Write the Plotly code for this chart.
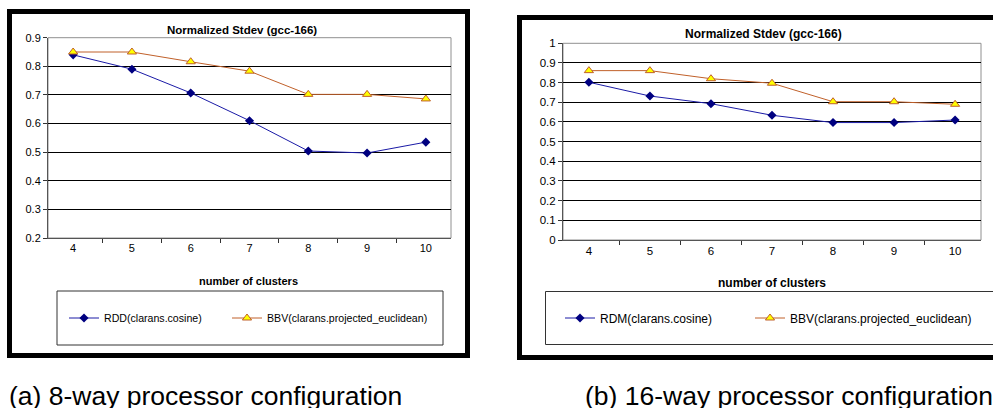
import plotly.graph_objects as go

W, H = 993, 408
clusters = ["4", "5", "6", "7", "8", "9", "10"]
rdd_8way = [0.840, 0.790, 0.707, 0.610, 0.504, 0.497, 0.535]
bbv_8way = [0.850, 0.850, 0.816, 0.783, 0.702, 0.702, 0.686]
rdm_16way = [0.802, 0.732, 0.693, 0.634, 0.597, 0.597, 0.610]
bbv_16way = [0.861, 0.861, 0.820, 0.797, 0.703, 0.703, 0.690]

chart_title = "Normalized Stdev (gcc-166)"
x_title = "number of clusters"
captions = ["(a) 8-way processor configuration", "(b) 16-way processor configuration"]

FONT = "Liberation Sans, Arial, sans-serif"
BLUE_LINE = "#1a1aa6"
NAVY = "#000080"
ORANGE = "#c0602a"


def fx(px):
    return px / W


def fy(py):
    return 1 - py / H


fig = go.Figure()

fig.add_trace(go.Scatter(x=clusters, y=rdd_8way, name="RDD(clarans.cosine)", mode="lines+markers",
                         line=dict(color=BLUE_LINE, width=1),
                         marker=dict(symbol="diamond", size=7, color=NAVY),
                         xaxis="x", yaxis="y", legend="legend", legendwidth=118))
fig.add_trace(go.Scatter(x=clusters, y=bbv_8way, name="BBV(clarans.projected_euclidean)", mode="lines+markers",
                         line=dict(color=ORANGE, width=1),
                         marker=dict(symbol="triangle-up", size=8, color="#ffff00", line=dict(color=ORANGE, width=1)),
                         xaxis="x", yaxis="y", legend="legend", legendwidth=220))
fig.add_trace(go.Scatter(x=clusters, y=rdm_16way, name="RDM(clarans.cosine)", mode="lines+markers",
                         line=dict(color=BLUE_LINE, width=1),
                         marker=dict(symbol="diamond", size=7, color=NAVY),
                         xaxis="x2", yaxis="y2", legend="legend2", legendwidth=145))
fig.add_trace(go.Scatter(x=clusters, y=bbv_16way, name="BBV(clarans.projected_euclidean)", mode="lines+markers",
                         line=dict(color=ORANGE, width=1),
                         marker=dict(symbol="triangle-up", size=8, color="#ffff00", line=dict(color=ORANGE, width=1)),
                         xaxis="x2", yaxis="y2", legend="legend2", legendwidth=220))


def xax(size):
    return dict(type="category", tickson="boundaries", ticks="outside", ticklen=4, tickcolor="#333",
                showgrid=False, showline=True, linecolor="#555", linewidth=1,
                tickfont=dict(family=FONT, size=size, color="black"),
                zeroline=False, fixedrange=True, automargin=False)


def yax(size):
    return dict(ticks="outside", ticklen=4, tickcolor="#333", showgrid=True, gridcolor="#000", gridwidth=1,
                showline=True, linecolor="#555", linewidth=1,
                tickfont=dict(family=FONT, size=size, color="black"), zeroline=False, fixedrange=True,
                automargin=False)


L = dict(x0=48, x1=451, y0=37.7, y1=238)
R = dict(x0=563, x1=981, y0=43.3, y1=240)

fig.update_layout(
    width=W, height=H, autosize=False,
    margin=dict(l=0, r=0, t=0, b=0, pad=0, autoexpand=False),
    paper_bgcolor="white", plot_bgcolor="white",
    font=dict(family=FONT, size=11, color="black"),
    xaxis=dict(**xax(11), domain=[fx(L["x0"]), fx(L["x1"])], anchor="y"),
    yaxis=dict(**yax(11), domain=[fy(L["y1"]), fy(L["y0"])], anchor="x", range=[0.2, 0.9], dtick=0.1,
               tickformat=".1f"),
    xaxis2=dict(**xax(11.5), domain=[fx(R["x0"]), fx(R["x1"])], anchor="y2"),
    yaxis2=dict(**yax(11.5), domain=[fy(R["y1"]), fy(R["y0"])], anchor="x2", range=[0, 1],
                tickvals=[0, 0.1, 0.2, 0.3, 0.4, 0.5, 0.6, 0.7, 0.8, 0.9, 1],
                ticktext=["0", "0.1", "0.2", "0.3", "0.4", "0.5", "0.6", "0.7", "0.8", "0.9", "1"]),
    legend=dict(orientation="h", x=fx(64), xanchor="left", y=fy(318), yanchor="middle",
                bgcolor="rgba(0,0,0,0)", font=dict(family=FONT, size=10.6, color="black"),
                entrywidthmode="pixels", itemclick=False, itemdoubleclick=False),
    legend2=dict(orientation="h", x=fx(560), xanchor="left", y=fy(318), yanchor="middle",
                 bgcolor="rgba(0,0,0,0)", font=dict(family=FONT, size=12, color="black"),
                 entrywidthmode="pixels", itemclick=False, itemdoubleclick=False),
    showlegend=True,
)

shapes = []
shapes.append(dict(type="rect", xref="paper", yref="paper", x0=fx(9.5), x1=fx(467.5), y0=fy(355.5), y1=fy(11.5),
                   line=dict(color="black", width=5)))
shapes.append(dict(type="rect", xref="paper", yref="paper", x0=fx(519.5), x1=fx(1010), y0=fy(357.5), y1=fy(17.5),
                   line=dict(color="black", width=5)))
for P in (L, R):
    shapes.append(dict(type="rect", xref="paper", yref="paper", x0=fx(P["x0"]), x1=fx(P["x1"]),
                       y0=fy(P["y1"]), y1=fy(P["y0"]), line=dict(color="#909090", width=1), layer="below"))
shapes.append(dict(type="rect", xref="paper", yref="paper", x0=fx(57), x1=fx(443), y0=fy(345), y1=fy(291),
                   line=dict(color="#333", width=1)))
shapes.append(dict(type="rect", xref="paper", yref="paper", x0=fx(545.5), x1=fx(1010), y0=fy(344.5), y1=fy(291.5),
                   line=dict(color="#333", width=1)))
fig.update_layout(shapes=shapes)

ann = []
for cx, cy, t, s in [(242, 30, chart_title, 11.5), (763, 34, chart_title, 12)]:
    ann.append(dict(text="<b>%s</b>" % t, x=fx(cx), y=fy(cy), xref="paper", yref="paper",
                    xanchor="center", yanchor="middle", showarrow=False,
                    font=dict(family=FONT, size=s, color="black")))
for cx, cy, s in [(248, 281, 11), (772, 283, 12)]:
    ann.append(dict(text="<b>%s</b>" % x_title, x=fx(cx), y=fy(cy), xref="paper", yref="paper",
                    xanchor="center", yanchor="middle", showarrow=False,
                    font=dict(family=FONT, size=s, color="black")))
for lx, t in [(7, captions[0]), (583, captions[1])]:
    ann.append(dict(text=t, x=fx(lx), y=fy(396), xref="paper", yref="paper",
                    xanchor="left", yanchor="middle", showarrow=False,
                    font=dict(family=FONT, size=26.5, color="black")))
fig.update_layout(annotations=ann)

fig.write_html("out.html", config=dict(displayModeBar=False),
               post_script="document.body.style.margin='0px';document.body.style.overflow='hidden';")
